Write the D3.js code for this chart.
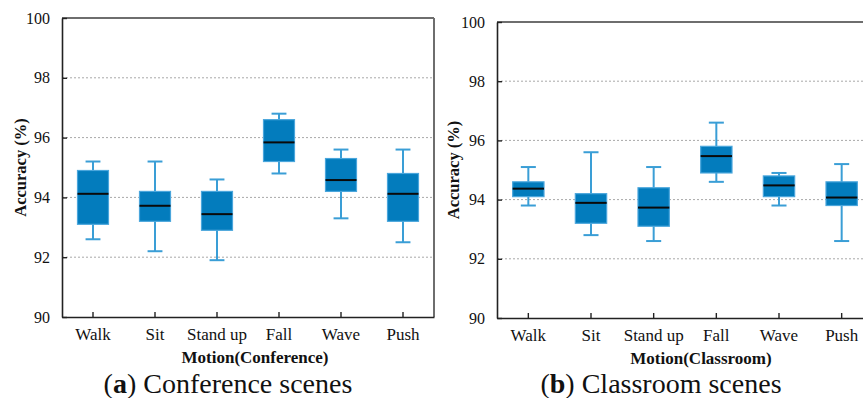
<!DOCTYPE html>
<html>
<head>
<meta charset="utf-8">
<script src="https://cdn.jsdelivr.net/npm/d3@7"></script>
<style>
  html, body { margin: 0; padding: 0; background: #fff; }
  svg { display: block; }
  svg text { font-family: "Liberation Serif", "Times New Roman", Times, "DejaVu Serif", serif; }
</style>
</head>
<body>
<svg id="chart" width="863" height="398"></svg>
<script>
// Motion categories shared by both scenes
const motions = ["Walk", "Sit", "Stand up", "Fall", "Wave", "Push"];
const yTicks = [90, 92, 94, 96, 98, 100];

// Conference scenes: five-number summaries per motion (%)
const confMin = [92.6, 92.2, 91.9, 94.8, 93.3, 92.5];
const confQ1  = [93.1, 93.2, 92.9, 95.2, 94.2, 93.2];
const confMed = [94.12, 93.72, 93.44, 95.84, 94.58, 94.12];
const confQ3  = [94.9, 94.2, 94.2, 96.6, 95.3, 94.8];
const confMax = [95.2, 95.2, 94.6, 96.8, 95.6, 95.6];

// Classroom scenes: five-number summaries per motion (%)
const clsMin = [93.8, 92.8, 92.6, 94.6, 93.8, 92.6];
const clsQ1  = [94.1, 93.2, 93.1, 94.9, 94.1, 93.8];
const clsMed = [94.37, 93.89, 93.73, 95.47, 94.48, 94.07];
const clsQ3  = [94.6, 94.2, 94.4, 95.8, 94.8, 94.6];
const clsMax = [95.1, 95.6, 95.1, 96.6, 94.9, 95.2];

const svg = d3.select("#chart");
const SERIF = "\"Liberation Serif\", \"Times New Roman\", Times, \"DejaVu Serif\", serif";
const BOX_FILL = "#037cbd";
const BOX_EDGE = "#4aa6dc";
const WHISKER = "#3a9ed6";

function panel(opts) {
  const { x0, x1, yTop, yBottom, min, q1, med, q3, max, xTitle, xTitleX, yTitleX, caption, captionX, letter } = opts;

  const x = d3.scaleBand().domain(motions).range([x0, x1]).padding(0);
  const y = d3.scaleLinear().domain([90, 100]).range([yBottom, yTop]);
  const g = svg.append("g");

  // dotted gridlines
  g.selectAll("line.grid")
    .data(yTicks.filter(t => t > 90 && t < 100))
    .enter().append("line")
    .attr("x1", x0).attr("x2", x1)
    .attr("y1", d => y(d)).attr("y2", d => y(d))
    .attr("stroke", "#a8a8a8").attr("stroke-width", 1)
    .attr("stroke-dasharray", "2,2");

  // top and right frame lines
  g.append("line").attr("x1", x0).attr("x2", x1).attr("y1", yTop).attr("y2", yTop)
    .attr("stroke", "#6e6e6e").attr("stroke-width", 2);
  g.append("line").attr("x1", x1).attr("x2", x1).attr("y1", yTop).attr("y2", yBottom)
    .attr("stroke", "#6e6e6e").attr("stroke-width", 2);

  const data = motions.map((m, i) => ({ m, min: min[i], q1: q1[i], med: med[i], q3: q3[i], max: max[i] }));
  const bw = x.bandwidth() * 0.5;
  const cap = x.bandwidth() * 0.24;

  const box = g.selectAll("g.box").data(data).enter().append("g")
    .attr("transform", d => `translate(${x(d.m) + x.bandwidth() / 2},0)`);

  // whiskers
  box.append("line").attr("x1", 0).attr("x2", 0)
    .attr("y1", d => y(d.max)).attr("y2", d => y(d.q3))
    .attr("stroke", WHISKER).attr("stroke-width", 2);
  box.append("line").attr("x1", 0).attr("x2", 0)
    .attr("y1", d => y(d.q1)).attr("y2", d => y(d.min))
    .attr("stroke", WHISKER).attr("stroke-width", 2);
  box.append("line").attr("x1", -cap / 2).attr("x2", cap / 2)
    .attr("y1", d => y(d.max)).attr("y2", d => y(d.max))
    .attr("stroke", WHISKER).attr("stroke-width", 2);
  box.append("line").attr("x1", -cap / 2).attr("x2", cap / 2)
    .attr("y1", d => y(d.min)).attr("y2", d => y(d.min))
    .attr("stroke", WHISKER).attr("stroke-width", 2);

  // boxes
  box.append("rect")
    .attr("x", -bw / 2).attr("width", bw)
    .attr("y", d => y(d.q3)).attr("height", d => y(d.q1) - y(d.q3))
    .attr("fill", BOX_FILL).attr("stroke", BOX_EDGE).attr("stroke-width", 1.2);

  // medians
  box.append("line").attr("x1", -bw / 2).attr("x2", bw / 2)
    .attr("y1", d => y(d.med)).attr("y2", d => y(d.med))
    .attr("stroke", "#0a0a0a").attr("stroke-width", 2);

  // left axis with inward ticks
  const yAxis = d3.axisLeft(y).tickValues(yTicks).tickSizeInner(-5).tickSizeOuter(0).tickPadding(12);
  const ya = g.append("g").attr("transform", `translate(${x0},0)`).call(yAxis)
    .attr("font-family", null).attr("font-size", null);
  ya.select(".domain").attr("stroke", "#222").attr("stroke-width", 1.6);
  ya.selectAll(".tick line").attr("stroke", "#222").attr("stroke-width", 1.4);
  ya.selectAll(".tick text").style("font-family", SERIF).style("font-size", "16px").attr("fill", "#111");

  // bottom axis with inward ticks
  const xAxis = d3.axisBottom(x).tickSizeInner(-5).tickSizeOuter(0).tickPadding(11);
  const xa = g.append("g").attr("transform", `translate(0,${yBottom})`).call(xAxis)
    .attr("font-family", null).attr("font-size", null);
  xa.select(".domain").attr("stroke", "#222").attr("stroke-width", 1.6);
  xa.selectAll(".tick line").attr("stroke", "#222").attr("stroke-width", 1.4);
  xa.selectAll(".tick text").style("font-family", SERIF).style("font-size", "17px").attr("fill", "#111");

  // axis titles
  g.append("text").attr("x", xTitleX).attr("y", yBottom + 46)
    .attr("text-anchor", "middle").style("font-family", SERIF)
    .style("font-weight", "bold").style("font-size", "17px").attr("fill", "#111")
    .text(xTitle);
  g.append("text")
    .attr("transform", `translate(${yTitleX},${(yTop + yBottom) / 2}) rotate(-90)`)
    .attr("text-anchor", "middle").style("font-family", SERIF)
    .style("font-weight", "bold").style("font-size", "16.5px").attr("fill", "#111")
    .text("Accuracy (%)");

  // sub-figure caption
  const c = svg.append("text").attr("x", captionX).attr("y", 393)
    .attr("text-anchor", "middle").style("font-family", SERIF)
    .style("font-size", "28px").attr("fill", "#111");
  c.append("tspan").text("(");
  c.append("tspan").style("font-weight", "bold").text(letter);
  c.append("tspan").text(") " + caption);
}

panel({
  x0: 62, x1: 434, yTop: 18, yBottom: 317,
  min: confMin, q1: confQ1, med: confMed, q3: confQ3, max: confMax,
  xTitle: "Motion(Conference)", xTitleX: 255, yTitleX: 26,
  caption: "Conference scenes", captionX: 228, letter: "a"
});

panel({
  x0: 497, x1: 873, yTop: 22, yBottom: 318,
  min: clsMin, q1: clsQ1, med: clsMed, q3: clsQ3, max: clsMax,
  xTitle: "Motion(Classroom)", xTitleX: 701, yTitleX: 459,
  caption: "Classroom scenes", captionX: 661, letter: "b"
});
</script>
</body>
</html>
